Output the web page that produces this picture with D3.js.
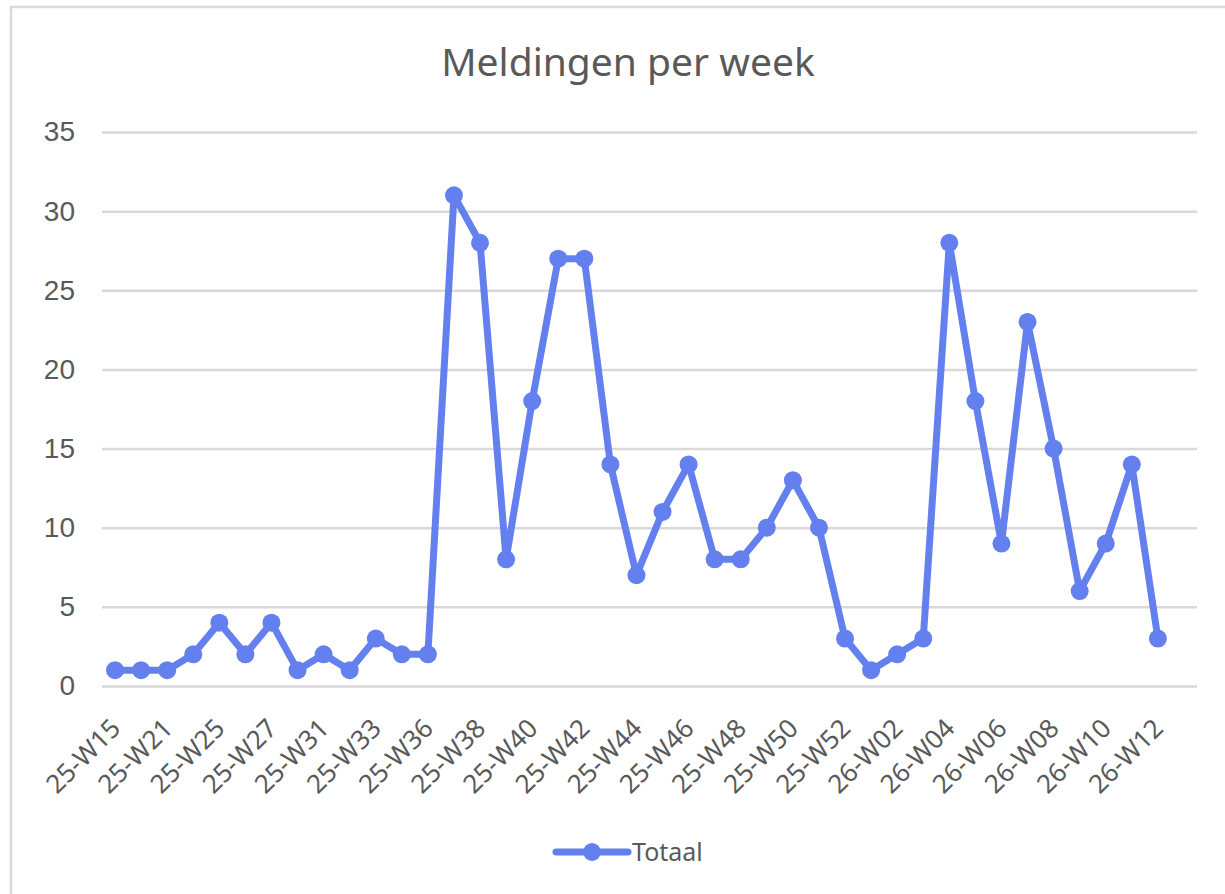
<!DOCTYPE html>
<html>
<head>
<meta charset="utf-8">
<script src="https://cdn.jsdelivr.net/npm/d3@7"></script>
<style>
    body { margin: 0; background: #fff; }
    svg { display: block; }
</style>
</head>
<body>
<svg></svg>
<script>
// weken (alleen elke tweede wordt gelabeld, zoals in Excel)
const weeks = [
    "25-W15", "25-W19", "25-W21", "25-W24", "25-W25", "25-W26", "25-W27",
    "25-W30", "25-W31", "25-W32", "25-W33", "25-W35", "25-W36", "25-W37",
    "25-W38", "25-W39", "25-W40", "25-W41", "25-W42", "25-W43", "25-W44",
    "25-W45", "25-W46", "25-W47", "25-W48", "25-W49", "25-W50", "25-W51",
    "25-W52", "26-W01", "26-W02", "26-W03", "26-W04", "26-W05", "26-W06",
    "26-W07", "26-W08", "26-W09", "26-W10", "26-W11", "26-W12", "26-W13"
];
const totaal = [
    1, 1, 1, 2, 4, 2, 4, 1, 2, 1, 3, 2, 2, 31, 28, 8, 18, 27, 27, 14, 7,
    11, 14, 8, 8, 10, 13, 10, 3, 1, 2, 3, 28, 18, 9, 23, 15, 6, 9, 14, 3, null
];
const yTicks = [0, 5, 10, 15, 20, 25, 30, 35];
const title = "Meldingen per week";
const seriesName = "Totaal";

const width = 1225;
const height = 894;
const color = "#6480ef";
const textColor = "#595959";
const plot = { left: 102, right: 1197, top: 132, bottom: 686 };

let svg = d3.select("svg").attr("width", width).attr("height", height);

// kader
svg.append("rect")
    .attr("x", 11).attr("y", 7)
    .attr("width", width + 20).attr("height", height + 20)
    .attr("fill", "#fff")
    .attr("stroke", "#d9d9d9")
    .attr("stroke-width", 2.5);

svg.append("text")
    .attr("x", 628).attr("y", 76)
    .attr("text-anchor", "middle")
    .style("font-family", "'Noto Sans', sans-serif")
    .style("font-size", "39px")
    .style("fill", textColor)
    .text(title);

let scaleX = d3.scaleBand()
    .domain(weeks)
    .range([plot.left, plot.right]);

let scaleY = d3.scaleLinear()
    .domain([0, 35])
    .range([plot.bottom, plot.top]);

// horizontale rasterlijnen + y-labels
let axisY = d3.axisLeft(scaleY)
    .tickValues(yTicks)
    .tickSize(-(plot.right - plot.left))
    .tickPadding(27);

let gy = svg.append("g")
    .attr("transform", `translate(${plot.left}, 0)`)
    .call(axisY);
gy.select(".domain").remove();
gy.selectAll(".tick line").attr("stroke", "#d9d9d9").attr("stroke-width", 2.5);
gy.selectAll(".tick text")
    .style("font-family", "'Liberation Sans', Arial, sans-serif")
    .style("font-size", "28px")
    .style("fill", textColor);

// x-as, alleen elke tweede week
let axisX = d3.axisBottom(scaleX)
    .tickValues(weeks.filter((d, i) => i % 2 == 0))
    .tickSize(0)
    .tickPadding(0);

let gx = svg.append("g")
    .attr("transform", `translate(0, ${plot.bottom})`)
    .call(axisX);
gx.select(".domain").remove();
gx.selectAll(".tick text")
    .style("text-anchor", "end")
    .style("font-family", "'Noto Sans', sans-serif")
    .style("font-size", "26px")
    .style("fill", textColor)
    .attr("dy", null)
    .attr("y", 0)
    .attr("transform", "translate(7, 44) rotate(-45)");

// lijn en punten
let line = d3.line()
    .defined((d) => d != null)
    .x((d, i) => scaleX(weeks[i]) + scaleX.bandwidth() / 2)
    .y((d) => scaleY(d));

svg.append("path")
    .datum(totaal)
    .attr("d", line)
    .attr("fill", "none")
    .attr("stroke", color)
    .attr("stroke-width", 7)
    .attr("stroke-linejoin", "round");

svg.selectAll(".dot")
    .data(totaal.map((v, i) => ({ week: weeks[i], value: v })).filter((d) => d.value != null))
    .enter()
    .append("circle")
    .attr("r", 9)
    .attr("cx", (d) => scaleX(d.week) + scaleX.bandwidth() / 2)
    .attr("cy", (d) => scaleY(d.value))
    .style("fill", color);

// legenda
let legend = svg.append("g").attr("transform", "translate(556, 852)");
legend.append("line")
    .attr("x1", 0).attr("x2", 72)
    .attr("stroke", color)
    .attr("stroke-width", 7)
    .attr("stroke-linecap", "round");
legend.append("circle").attr("cx", 36).attr("r", 9).style("fill", color);
legend.append("text")
    .attr("x", 76).attr("y", 9)
    .style("font-family", "'Noto Sans', sans-serif")
    .style("font-size", "25px")
    .style("fill", textColor)
    .text(seriesName);
</script>
</body>
</html>
